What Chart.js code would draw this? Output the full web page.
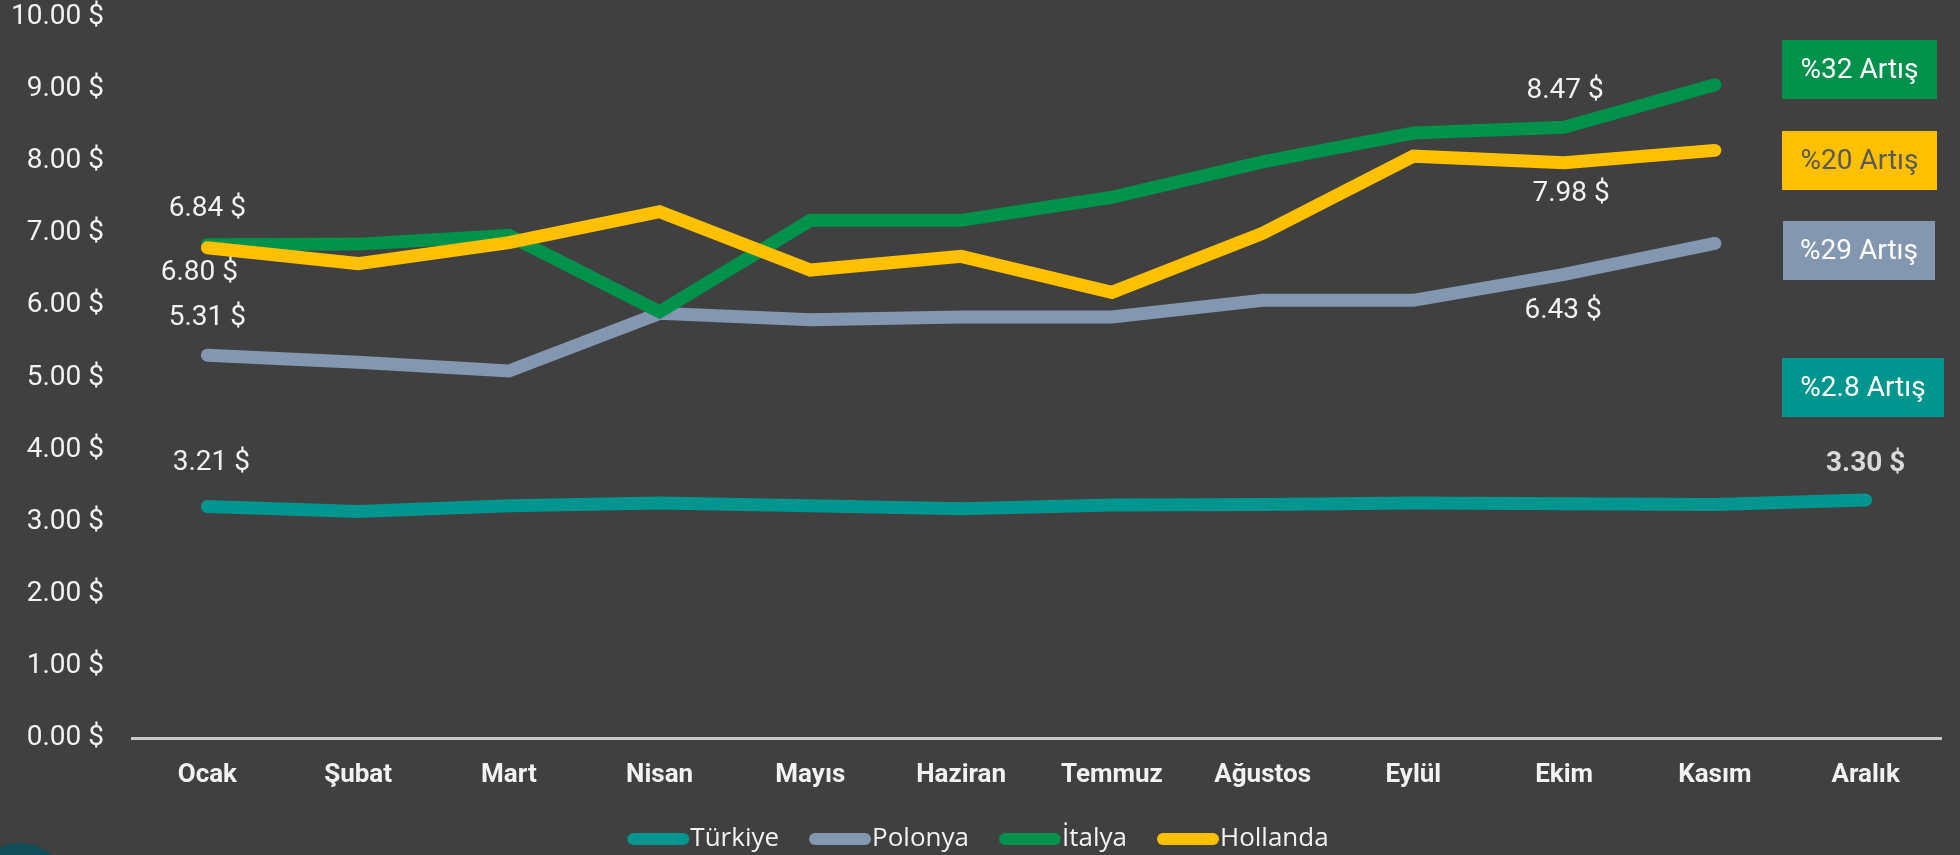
<!DOCTYPE html>
<html>
<head>
<meta charset="utf-8">
<script src="https://cdn.jsdelivr.net/npm/chart.js@4/dist/chart.umd.min.js"></script>
<style>
  html, body { margin: 0; padding: 0; background: #404040; overflow: hidden; }
  #wrap { position: relative; width: 1960px; height: 855px; }
  #corner { position: absolute; left: -27px; top: 843px; width: 94px; height: 94px; border-radius: 50%; background: #0f4d58; }
</style>
</head>
<body>
<div id="wrap">
  <canvas id="price-chart" width="1960" height="855"></canvas>
  <div id="corner"></div>
</div>
<script>
const months = ['Ocak', 'Şubat', 'Mart', 'Nisan', 'Mayıs', 'Haziran', 'Temmuz', 'Ağustos', 'Eylül', 'Ekim', 'Kasım', 'Aralık'];
const seriesNames = ['Türkiye', 'Polonya', 'İtalya', 'Hollanda'];
const turkiye = [3.21, 3.14, 3.22, 3.26, 3.22, 3.18, 3.23, 3.24, 3.26, 3.25, 3.24, 3.30];
const polonya = [5.31, 5.21, 5.09, 5.89, 5.80, 5.84, 5.84, 6.07, 6.07, 6.43, 6.86, null];
const italya = [6.84, 6.85, 6.97, 5.91, 7.18, 7.18, 7.50, 7.99, 8.39, 8.47, 9.06, null];
const hollanda = [6.80, 6.58, 6.87, 7.30, 6.49, 6.68, 6.18, 7.00, 8.07, 7.98, 8.15, null];
const yTicks = [0, 1, 2, 3, 4, 5, 6, 7, 8, 9, 10];
const increaseTexts = ['%32 Artış', '%20 Artış', '%29 Artış', '%2.8 Artış'];

const colors = ['#00968f', '#8497b0', '#00914a', '#ffc000'];

// which points get a value label: [dataset, index, dx, dy]
const labelSpots = [
  [2, 0, 0, -36],
  [3, 0, -8, 25],
  [1, 0, 0, -37],
  [0, 0, 4, -44],
  [2, 9, 1, -36],
  [3, 9, 7, 31],
  [1, 9, -1, 37],
  [0, 11, 0, -36]
];

// increase boxes on the right: [x, y, w, h, fill, textColor, textIndex]
const boxes = [
  [1782, 40, 155, 59, colors[2], '#ffffff', 0],
  [1782, 131, 155, 59, colors[3], '#595959', 1],
  [1783, 221, 152, 59, colors[1], '#ffffff', 2],
  [1782, 358, 162, 59, colors[0], '#ffffff', 3]
];

const extras = {
  id: 'extras',
  afterDatasetsDraw(chart) {
    const ctx = chart.ctx;
    ctx.save();
    ctx.textAlign = 'center';
    ctx.textBaseline = 'middle';
    labelSpots.forEach(([ds, i, dx, dy]) => {
      const pt = chart.getDatasetMeta(ds).data[i];
      const v = chart.data.datasets[ds].data[i];
      const last = ds === 0 && i === 11;
      ctx.font = (last ? 'bold ' : '') + '28px Roboto';
      ctx.fillStyle = last ? '#d9d9d9' : '#f2f2f2';
      ctx.fillText(v.toFixed(2) + ' $', pt.x + dx, pt.y + dy);
    });
    ctx.font = '28px Roboto';
    boxes.forEach(([x, y, w, h, fill, tc, ti]) => {
      ctx.fillStyle = fill;
      ctx.fillRect(x, y, w, h);
      ctx.fillStyle = tc;
      ctx.fillText(increaseTexts[ti], x + w / 2, y + h / 2 + 1);
    });

    // legend row
    ctx.font = '26px "Open Sans"';
    ctx.textAlign = 'left';
    const sw = 62, sh = 12, gap = 30, cy = 839;
    const widths = chart.data.datasets.map(d => sw + 1 + ctx.measureText(d.label).width);
    const total = widths.reduce((a, b) => a + b, 0) + gap * (widths.length - 1);
    let x = 978 - total / 2;
    chart.data.datasets.forEach((d, i) => {
      ctx.fillStyle = d.borderColor;
      ctx.beginPath();
      ctx.roundRect(x, cy - sh / 2, sw, sh, sh / 2);
      ctx.fill();
      ctx.fillStyle = '#f2f2f2';
      ctx.fillText(d.label, x + sw + 1, cy);
      x += widths[i] + gap;
    });
    ctx.restore();
  }
};

const seriesData = [turkiye, polonya, italya, hollanda];

const chart = new Chart(document.getElementById('price-chart'), {
  type: 'line',
  data: {
    labels: months,
    datasets: seriesNames.map((name, k) => ({
      label: name,
      data: seriesData[k],
      borderColor: colors[k],
      backgroundColor: colors[k],
      borderWidth: 13,
      borderCapStyle: 'round',
      borderJoinStyle: 'miter',
      pointRadius: 0,
      tension: 0,
      fill: false,
      order: 3 - k
    }))
  },
  options: {
    responsive: false,
    animation: false,
    layout: { padding: { top: 17, right: 19, left: 0, bottom: 57 } },
    scales: {
      x: {
        offset: true,
        grid: { display: false, drawTicks: false },
        border: { display: true, color: '#c8c8c8', width: 3 },
        ticks: {
          color: '#f2f2f2',
          padding: 22,
          maxRotation: 0,
          font: { family: 'Roboto', size: 26, weight: 'bold' }
        },
        afterFit(scale) { scale.height = 60; }
      },
      y: {
        min: 0,
        max: 10,
        grid: { display: false, drawTicks: false },
        border: { display: false },
        afterBuildTicks(scale) { scale.ticks = yTicks.map(v => ({ value: v })); },
        ticks: {
          color: '#f2f2f2',
          padding: 28,
          font: { family: 'Roboto', size: 28 },
          callback: v => v.toFixed(2) + ' $'
        },
        afterFit(scale) {
          scale.width = 132;
          scale.paddingTop = 10;
          scale.paddingBottom = 10;
        }
      }
    },
    plugins: {
      tooltip: { enabled: false },
      legend: { display: false }
    }
  },
  plugins: [extras]
});
</script>
</body>
</html>
